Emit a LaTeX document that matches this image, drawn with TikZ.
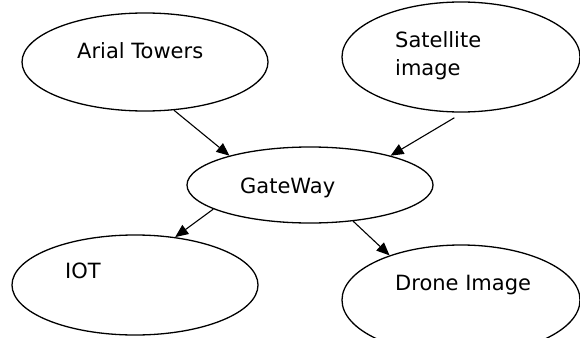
\documentclass[tikz,border=0pt]{standalone}
\usepackage{fontspec}
\setsansfont{DejaVu Sans}
\usetikzlibrary{shapes.geometric,arrows.meta}
\tikzset{
  bubble/.style={draw,ellipse,line width=1.3pt,inner sep=0pt},
  caption/.style={inner sep=0pt,font=\sffamily\fontsize{21}{28}\selectfont},
  link/.style={line width=1.1pt,-{Triangle[length=13pt,width=11pt]}}
}
\begin{document}
\begin{tikzpicture}[x=1pt,y=-1pt]
      \useasboundingbox (0,0) rectangle (580,337);
      \node[bubble,minimum width=246pt,minimum height=98pt] (arial) at (145,62) {};
      \node[bubble,minimum width=238pt,minimum height=110pt] (satellite) at (461,57) {};
      \node[bubble,minimum width=246pt,minimum height=76pt] (gateway) at (310,185) {};
      \node[bubble,minimum width=246pt,minimum height=100pt] (iot) at (135,285) {};
      \node[bubble,minimum width=238pt,minimum height=110pt] (drone) at (461,300) {};
      \node[caption,anchor=base west] (arialtext) at (77,59) {Arial Towers};
      \node[caption,anchor=north west,align=left] (satellitetext) at (395,31) {Satellite\\image};
      \node[caption,anchor=base west] (gatewaytext) at (240,193) {GateWay};
      \node[caption,anchor=base west] (iottext) at (65,278) {IOT};
      \node[caption,anchor=base west] (dronetext) at (395,290) {Drone Image};
      \begin{scope}[link]
        \draw (arial.301) to (gateway.160);
        \draw[shorten <=10pt] (satellite.272) to (gateway.20);
        \draw (gateway.194) to (iot.50);
        \draw (gateway.320) to (drone.148);
      \end{scope}
    \end{tikzpicture}
\end{document}
